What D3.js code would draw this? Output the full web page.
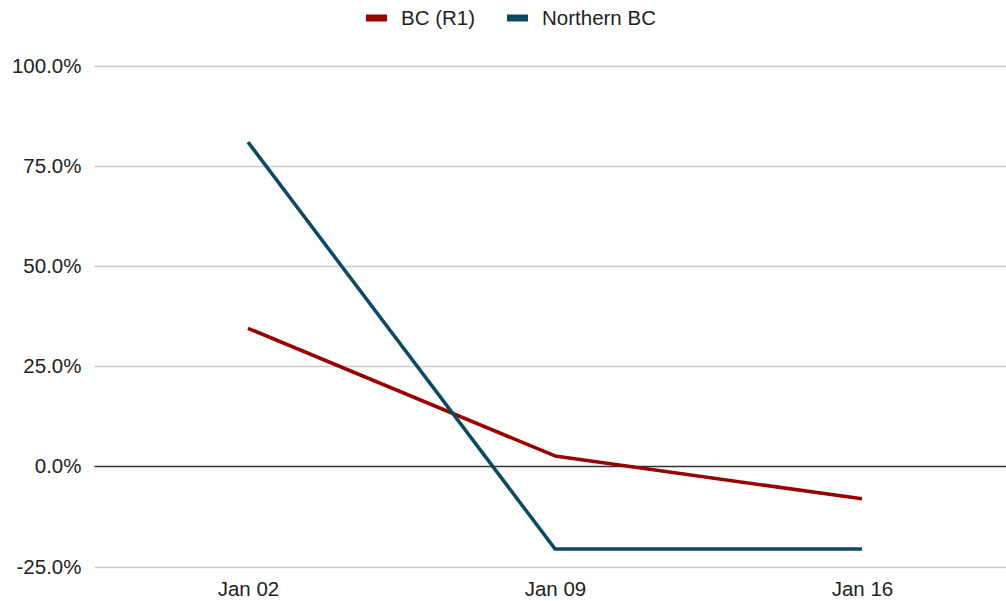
<!DOCTYPE html>
<html>
<head>
<meta charset="utf-8">
<script src="https://cdn.jsdelivr.net/npm/d3@7"></script>
<style>
  html, body { margin: 0; padding: 0; background: #fff; }
  svg { display: block; font-family: "Liberation Sans", Arial, sans-serif; }
</style>
</head>
<body>
<svg id="chart" width="1006" height="601"></svg>
<script>
// Weekly percentage change, by week
const weeks = ["Jan 02", "Jan 09", "Jan 16"];
const bcR1 = [34.5, 2.6, -8.1];
const northernBC = [81.0, -20.6, -20.6];
const yTicks = [-25, 0, 25, 50, 75, 100];
const seriesNames = ["BC (R1)", "Northern BC"];
const seriesColors = ["#990000", "#0b4a62"];

const series = [
  { name: seriesNames[0], color: seriesColors[0], values: bcR1 },
  { name: seriesNames[1], color: seriesColors[1], values: northernBC }
];

const width = 1006, height = 601;
const margin = { left: 94.5, right: -9.5, top: 66, bottom: 34.5 };
const fontSize = 20.5;

const svg = d3.select("#chart");

const x = d3.scalePoint()
  .domain(weeks)
  .range([margin.left, width - margin.right])
  .padding(0.5);

const y = d3.scaleLinear()
  .domain([-25, 100])
  .range([height - margin.bottom, margin.top]);

// Horizontal gridlines
svg.append("g")
  .selectAll("line")
  .data(yTicks.filter(d => d !== 0))
  .join("line")
  .attr("x1", margin.left)
  .attr("x2", width)
  .attr("y1", d => Math.round(y(d)) + 0.5)
  .attr("y2", d => Math.round(y(d)) + 0.5)
  .attr("stroke", "#cccccc")
  .attr("stroke-width", 1.5);

// Y axis labels (plain hyphen for negatives)
const pct = d3.format(".1f");
const yAxis = d3.axisLeft(y)
  .tickValues(yTicks)
  .tickSize(0)
  .tickPadding(13)
  .tickFormat(d => pct(d).replace("\u2212", "-") + "%");

svg.append("g")
  .attr("transform", `translate(${margin.left},0)`)
  .call(yAxis)
  .call(g => g.select(".domain").remove())
  .call(g => g.selectAll("text")
    .attr("font-size", fontSize)
    .attr("fill", "#222")
    .attr("font-family", "'Liberation Sans', Arial, sans-serif"));

// X axis labels
const xAxis = d3.axisBottom(x).tickSize(0).tickPadding(15);
svg.append("g")
  .attr("transform", `translate(0,${height - margin.bottom})`)
  .call(xAxis)
  .call(g => g.select(".domain").remove())
  .call(g => g.selectAll("text")
    .attr("font-size", fontSize)
    .attr("fill", "#222")
    .attr("font-family", "'Liberation Sans', Arial, sans-serif"));

// Zero baseline
svg.append("line")
  .attr("x1", margin.left)
  .attr("x2", width)
  .attr("y1", y(0))
  .attr("y2", y(0))
  .attr("stroke", "#333333")
  .attr("stroke-width", 1.5);

// Series lines
const line = d3.line()
  .x((d, i) => x(weeks[i]))
  .y(d => y(d));

svg.append("g")
  .selectAll("path")
  .data(series)
  .join("path")
  .attr("d", d => line(d.values))
  .attr("fill", "none")
  .attr("stroke", d => d.color)
  .attr("stroke-width", 3.5)
  .attr("stroke-linejoin", "round");

// Legend
const legendItems = [
  { name: seriesNames[0], color: seriesColors[0], x: 366 },
  { name: seriesNames[1], color: seriesColors[1], x: 507 }
];
const legend = svg.append("g");
const li = legend.selectAll("g")
  .data(legendItems)
  .join("g")
  .attr("transform", d => `translate(${d.x},18)`);
li.append("rect")
  .attr("x", 0).attr("y", -3.5)
  .attr("width", 21).attr("height", 7)
  .attr("fill", d => d.color);
li.append("text")
  .attr("x", 35)
  .attr("dy", "0.35em")
  .attr("font-size", fontSize)
  .attr("fill", "#222")
  .text(d => d.name);
</script>
</body>
</html>
